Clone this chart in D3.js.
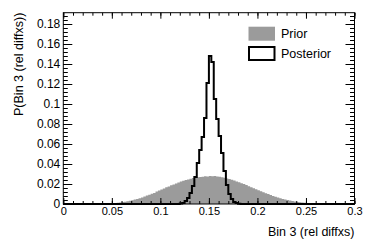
<!DOCTYPE html>
<html>
<head>
<meta charset="utf-8">
<script src="https://cdn.jsdelivr.net/npm/d3@7"></script>
<style>
  html, body { margin: 0; padding: 0; background: #fff; }
  svg { display: block; font-family: "Liberation Sans", Arial, sans-serif; }
</style>
</head>
<body>
<div id="chart"></div>
<script>
// Prior vs posterior histogram for bin 3, ROOT-style frame.
var binWidth = 0.0025;

var priorStart = 0.035;
var priorValues = [
  0.0002, 0.0003, 0.0004, 0.0004, 0.0006, 0.0007, 0.0009, 0.0011, 0.0013, 0.0016,
  0.0020, 0.0023, 0.0028, 0.0033, 0.0038, 0.0045, 0.0050, 0.0058, 0.0066, 0.0074,
  0.0084, 0.0092, 0.0103, 0.0111, 0.0124, 0.0134, 0.0146, 0.0155, 0.0167, 0.0176,
  0.0187, 0.0195, 0.0206, 0.0214, 0.0224, 0.0232, 0.0240, 0.0246, 0.0252, 0.0259,
  0.0262, 0.0268, 0.0270, 0.0273, 0.0278, 0.0276, 0.0280, 0.0277, 0.0279, 0.0274,
  0.0272, 0.0268, 0.0263, 0.0256, 0.0250, 0.0243, 0.0236, 0.0226, 0.0218, 0.0208,
  0.0199, 0.0189, 0.0178, 0.0168, 0.0158, 0.0147, 0.0137, 0.0127, 0.0118, 0.0108,
  0.0099, 0.0090, 0.0081, 0.0073, 0.0066, 0.0058, 0.0051, 0.0045, 0.0039, 0.0034,
  0.0029, 0.0025, 0.0021, 0.0017, 0.0014, 0.0012, 0.0009, 0.0007, 0.0006, 0.0004,
  0.0003, 0.0002, 0.0001
];

var posteriorStart = 0.12;
var posteriorValues = [
  0.0005, 0.001, 0.003, 0.006, 0.011, 0.018, 0.027, 0.041, 0.054, 0.067,
  0.086, 0.121, 0.148, 0.142, 0.105, 0.085, 0.068, 0.051, 0.033, 0.019,
  0.010, 0.005, 0.002, 0.001, 0.0003
];

var xTicks = [0, 0.05, 0.1, 0.15, 0.2, 0.25, 0.3];
var yTicks = [0, 0.02, 0.04, 0.06, 0.08, 0.1, 0.12, 0.14, 0.16, 0.18];
var legendLabels = ["Prior", "Posterior"];
var xTitle = "Bin 3 (rel diffxs)";
var yTitle = "P(Bin 3 (rel diffxs))";

(function () {
  var width = 374, height = 241;
  var fLeft = 63.3, fRight = 354.5, fTop = 12.7, fBottom = 204;

  var x = d3.scaleLinear().domain([0, 0.3]).range([fLeft, fRight]);
  var y = d3.scaleLinear().domain([0, 0.1913]).range([fBottom, fTop]);

  // spread the short value lists onto the full 0..0.3 binning
  var nBins = Math.round(0.3 / binWidth);
  function fill(start, vals) {
    var off = Math.round(start / binWidth);
    return d3.range(nBins).map(function (i) {
      var v = vals[i - off];
      return { x0: i * binWidth, v: v === undefined ? 0 : v };
    });
  }
  var prior = fill(priorStart, priorValues);
  var posterior = fill(posteriorStart, posteriorValues);
  prior.push({ x0: 0.3, v: prior[nBins - 1].v });
  posterior.push({ x0: 0.3, v: posterior[nBins - 1].v });

  var svg = d3.select("#chart").append("svg")
    .attr("width", width)
    .attr("height", height);

  svg.append("path")
    .datum(prior)
    .attr("fill", "#9b9b9b")
    .attr("d", d3.area()
      .curve(d3.curveStepAfter)
      .x(function (d) { return x(d.x0); })
      .y0(y(0))
      .y1(function (d) { return y(d.v); }));

  svg.append("path")
    .datum(posterior)
    .attr("fill", "none")
    .attr("stroke", "#000")
    .attr("stroke-width", 2)
    .attr("d", d3.line()
      .curve(d3.curveStepAfter)
      .x(function (d) { return x(d.x0); })
      .y(function (d) { return y(d.v); }));

  function fmt(d) { return d === 0 ? "0" : String(+d.toFixed(3)); }
  var xMinor = d3.range(0, 31).map(function (i) { return i * 0.01; });
  var yMinor = d3.range(0, 48).map(function (i) { return i * 0.004; });

  // ticks point inward on all four sides
  function addAxis(axis, tx, ty) {
    var g = svg.append("g").attr("transform", "translate(" + tx + "," + ty + ")").call(axis);
    g.select(".domain").remove();
    g.selectAll("line").attr("stroke", "#000").attr("stroke-width", 1);
    return g;
  }

  var gx = addAxis(d3.axisBottom(x).tickValues(xTicks).tickFormat(fmt).tickSize(-6).tickPadding(3), 0, fBottom);
  gx.selectAll("text").attr("font-size", 11).attr("fill", "#000");
  addAxis(d3.axisBottom(x).tickValues(xMinor).tickFormat("").tickSize(-3), 0, fBottom);
  addAxis(d3.axisTop(x).tickValues(xTicks).tickFormat("").tickSize(-6), 0, fTop);
  addAxis(d3.axisTop(x).tickValues(xMinor).tickFormat("").tickSize(-3), 0, fTop);

  var gy = addAxis(d3.axisLeft(y).tickValues(yTicks).tickFormat(fmt).tickSize(-9).tickPadding(3), fLeft, 0);
  gy.selectAll("text").attr("font-size", 12).attr("fill", "#000");
  addAxis(d3.axisLeft(y).tickValues(yMinor).tickFormat("").tickSize(-4.5), fLeft, 0);
  addAxis(d3.axisRight(y).tickValues(yTicks).tickFormat("").tickSize(-9), fRight, 0);
  addAxis(d3.axisRight(y).tickValues(yMinor).tickFormat("").tickSize(-4.5), fRight, 0);

  svg.append("rect")
    .attr("x", fLeft).attr("y", fTop)
    .attr("width", fRight - fLeft).attr("height", fBottom - fTop)
    .attr("fill", "none").attr("stroke", "#000").attr("stroke-width", 1);

  svg.append("text")
    .attr("x", fRight).attr("y", 236)
    .attr("text-anchor", "end")
    .attr("font-size", 12.5)
    .text(xTitle);

  svg.append("text")
    .attr("transform", "translate(23," + fTop + ") rotate(-90)")
    .attr("text-anchor", "end")
    .attr("font-size", 12.5)
    .text(yTitle);

  // legend
  var legend = svg.append("g");
  legend.append("rect")
    .attr("x", 248.5).attr("y", 26.7).attr("width", 26.5).attr("height", 14)
    .attr("fill", "#9b9b9b");
  legend.append("rect")
    .attr("x", 249).attr("y", 47).attr("width", 25.5).attr("height", 13)
    .attr("fill", "#fff").attr("stroke", "#000").attr("stroke-width", 2);
  legend.selectAll("text.lbl")
    .data(legendLabels)
    .join("text")
    .attr("class", "lbl")
    .attr("x", 281)
    .attr("y", function (d, i) { return 33.7 + i * 20; })
    .attr("dy", "0.35em")
    .attr("font-size", 12.5)
    .text(function (d) { return d; });
})();
</script>
</body>
</html>
